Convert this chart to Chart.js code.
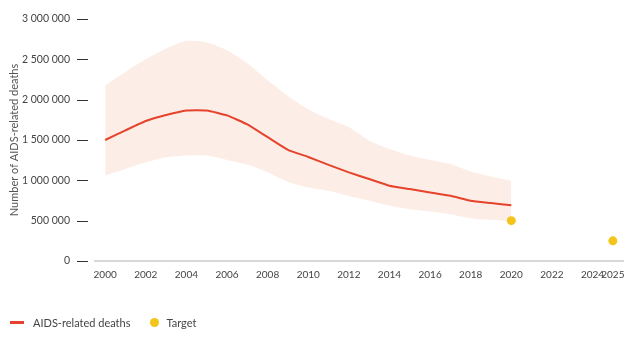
<!DOCTYPE html>
<html>
<head>
<meta charset="utf-8">
<script src="https://cdn.jsdelivr.net/npm/chart.js@4"></script>
<style>
  body { margin: 0; background: #fff; font-family: Lato, sans-serif; }
  #wrap { position: relative; width: 638px; height: 338px; }
  #legend { position: absolute; left: 10px; top: 316px; font-size: 11px; color: #444; display: flex; align-items: center; }
  #legend .item { display: flex; align-items: center; margin-right: 20px; }
  #legend .line { width: 14px; height: 3px; background: #e5432b; margin-right: 9px; }
  #legend .dot { width: 9px; height: 9px; border-radius: 50%; background: #f3c51b; margin-right: 7px; }
</style>
</head>
<body>
<div id="wrap">
  <canvas id="chart"></canvas>
  <div id="legend">
    <div class="item"><span class="line"></span>AIDS-related deaths</div>
    <div class="item"><span class="dot"></span>Target</div>
  </div>
</div>
<script>
const years = [2000, 2001, 2002, 2003, 2004, 2005, 2006, 2007, 2008, 2009, 2010,
               2011, 2012, 2013, 2014, 2015, 2016, 2017, 2018, 2019, 2020];
const deaths = [1500000, 1620000, 1735000, 1810000, 1867000, 1867000, 1805000, 1693000, 1535000, 1378000, 1290000,
                1192000, 1099000, 1017000, 934000, 892000, 850000, 809000, 747000, 718000, 690000];
const upper = [2180000, 2344000, 2500000, 2635000, 2730000, 2710000, 2614000, 2450000, 2240000, 2045000, 1880000,
               1760000, 1660000, 1494000, 1390000, 1307000, 1253000, 1203000, 1111000, 1049000, 996000];
const lower = [1058000, 1141000, 1223000, 1286000, 1307000, 1307000, 1253000, 1195000, 1099000, 980000, 912000,
               871000, 805000, 747000, 685000, 643000, 614000, 581000, 531000, 510000, 489000];
const targetYears = [2020, 2025];
const targetValues = [500000, 250000];
const tickYears = [2000, 2002, 2004, 2006, 2008, 2010, 2012, 2014, 2016, 2018, 2020, 2022, 2024, 2025];

const pts = arr => arr.map((v, i) => ({ x: years[i], y: v }));
const spaced = v => String(v).replace(/\B(?=(\d{3})+(?!\d))/g, " ");

// short dashes between the y labels and the plot
const yDashes = {
  id: "yDashes",
  afterDraw(chart) {
    const { ctx, chartArea, scales } = chart;
    ctx.save();
    ctx.strokeStyle = "#333";
    ctx.lineWidth = 1;
    scales.y.ticks.forEach(t => {
      const y = Math.round(scales.y.getPixelForValue(t.value)) + 0.5;
      ctx.beginPath();
      ctx.moveTo(chartArea.left - 18, y);
      ctx.lineTo(chartArea.left - 7, y);
      ctx.stroke();
    });
    ctx.restore();
  }
};

Chart.defaults.font.family = "Lato, sans-serif";
Chart.defaults.color = "#444";

new Chart(document.getElementById("chart"), {
  type: "line",
  data: {
    datasets: [
      {
        label: "lower",
        data: pts(lower),
        borderWidth: 0,
        pointRadius: 0,
        tension: 0.2,
        fill: false,
        order: 3
      },
      {
        label: "upper",
        data: pts(upper),
        borderWidth: 0,
        pointRadius: 0,
        tension: 0.2,
        backgroundColor: "#fdede7",
        fill: "-1",
        order: 2
      },
      {
        label: "AIDS-related deaths",
        data: pts(deaths),
        borderColor: "#e5432b",
        borderWidth: 2,
        pointRadius: 0,
        tension: 0.15,
        order: 1
      },
      {
        label: "Target",
        type: "scatter",
        data: targetYears.map((x, i) => ({ x, y: targetValues[i] })),
        backgroundColor: "#f3c51b",
        borderWidth: 0,
        pointRadius: 4.5,
        order: 0
      }
    ]
  },
  options: {
    responsive: true,
    maintainAspectRatio: false,
    animation: false,
    layout: { padding: { left: 4, right: 15, top: 19, bottom: 49 } },
    plugins: {
      legend: { display: false },
      tooltip: { enabled: false }
    },
    scales: {
      x: {
        type: "linear",
        min: 1999.5,
        max: 2025.5,
        afterBuildTicks: scale => { scale.ticks = tickYears.map(v => ({ value: v })); },
        ticks: {
          autoSkip: false,
          maxRotation: 0,
          padding: 8,
          font: { size: 10 },
          callback: v => String(v)
        },
        grid: { drawOnChartArea: false, drawTicks: false },
        border: { display: true, color: "#d9d9d9", width: 2 }
      },
      y: {
        min: 0,
        max: 3000000,
        afterFit: scale => { scale.width = 91; },
        ticks: {
          stepSize: 500000,
          padding: 0,
          font: { size: 10.5 },
          callback: v => spaced(v)
        },
        grid: { drawOnChartArea: false, drawTicks: true, tickLength: 25, tickColor: "rgba(0,0,0,0)" },
        border: { display: false },
        title: {
          display: true,
          text: "Number of AIDS-related deaths",
          font: { size: 11 },
          color: "#555",
          padding: 4
        }
      }
    }
  },
  plugins: [yDashes]
});
</script>
</body>
</html>
